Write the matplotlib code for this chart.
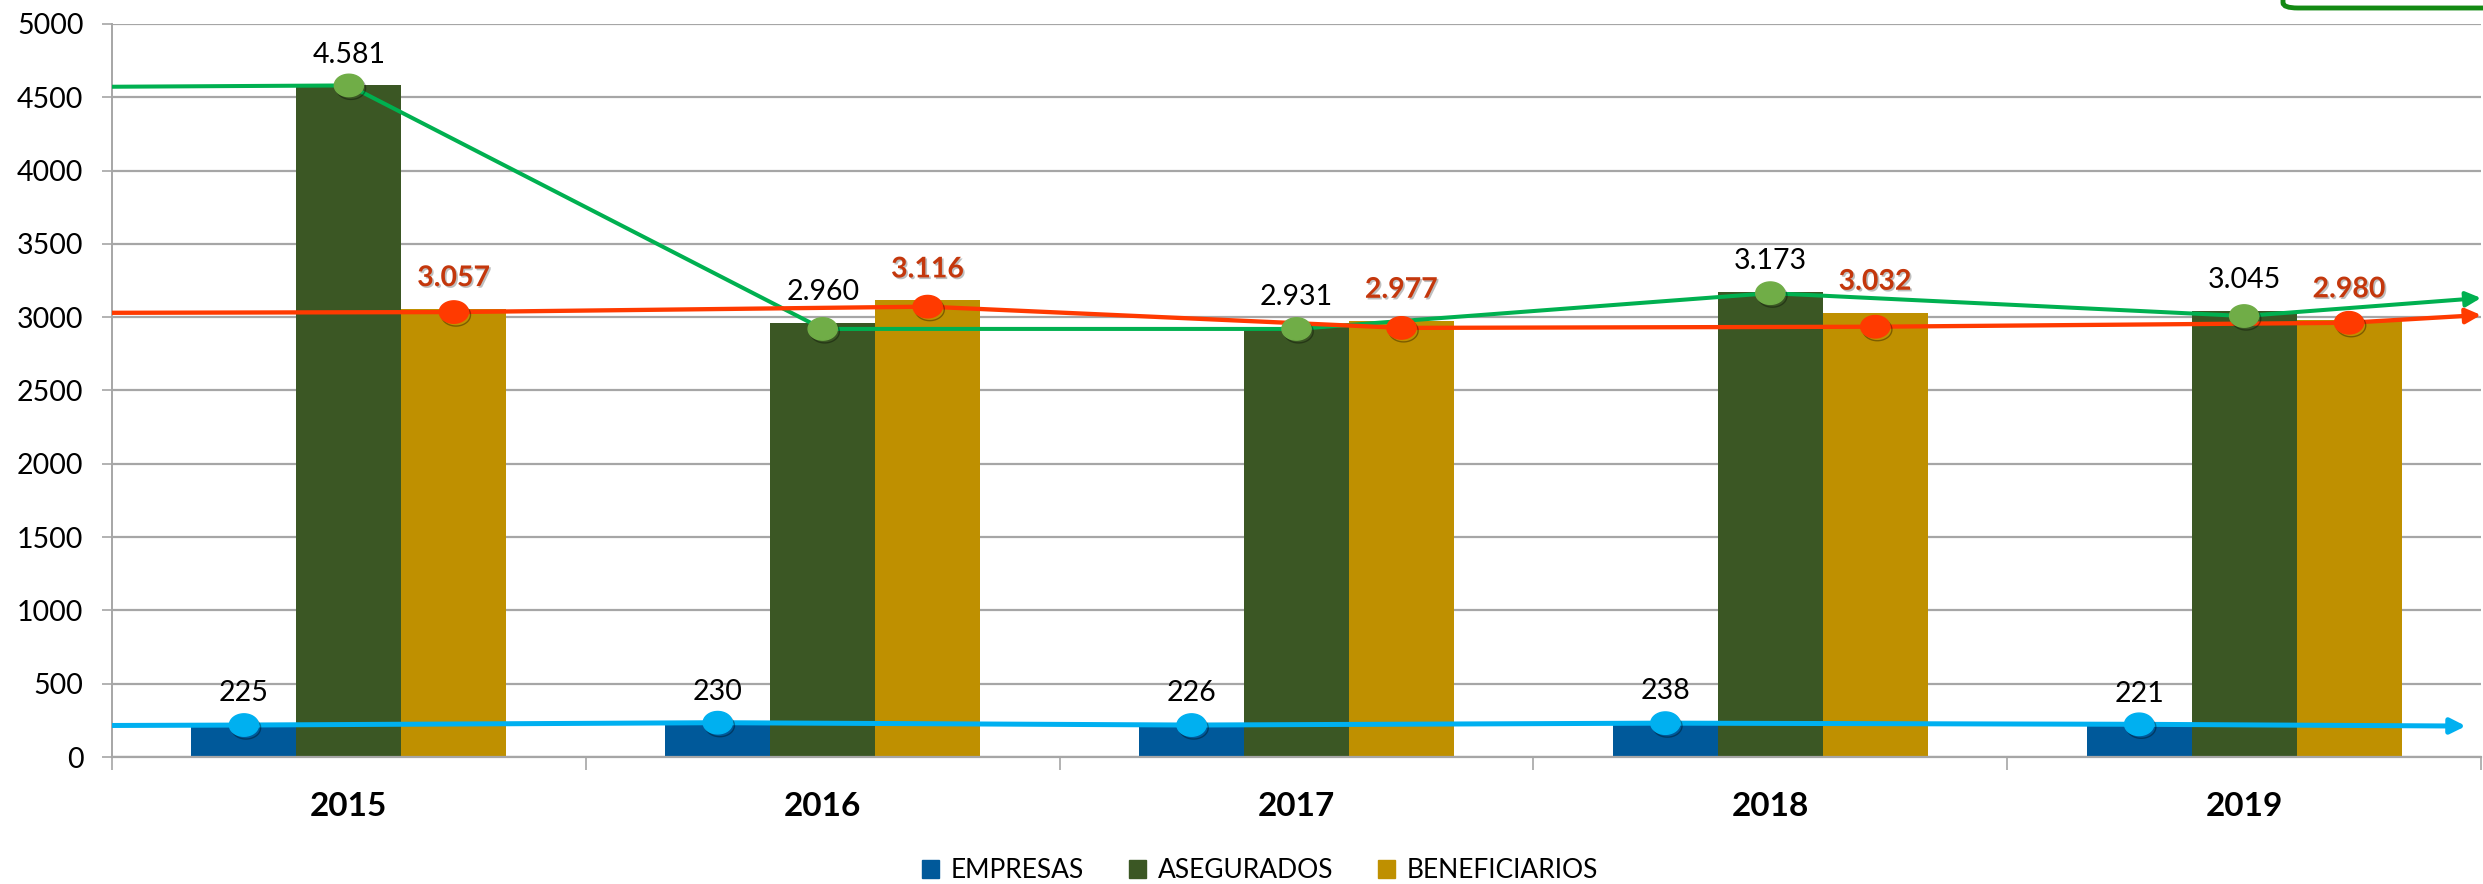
import matplotlib
matplotlib.use("Agg")
import matplotlib.pyplot as plt
import numpy as np
from matplotlib.path import Path
from matplotlib.patches import FancyBboxPatch
import matplotlib.patheffects as pe

# ---------------- data ----------------
anios = ["2015", "2016", "2017", "2018", "2019"]
empresas = [225, 230, 226, 238, 221]
asegurados = [4581, 2960, 2931, 3173, 3045]
beneficiarios = [3057, 3116, 2977, 3032, 2980]

# trend lines drawn over the bars
linea_empresas = [218, 234, 218, 231, 223]
linea_asegurados = [4581, 2920, 2920, 3164, 3008]
linea_beneficiarios = [3035, 3072, 2927, 2935, 2962]
# values where each line enters at the left edge and leaves (arrow) at the right
inicio_lineas = {"empresas": 215, "asegurados": 4572, "beneficiarios": 3030}
fin_lineas = {"empresas": 211, "asegurados": 3131, "beneficiarios": 3015}

series_nombres = ["EMPRESAS", "ASEGURADOS", "BENEFICIARIOS"]
y_ticks = list(range(0, 5001, 500))

# ---------------- style ----------------
C_BLUE_BAR = "#00599A"
C_GREEN_BAR = "#3B5724"
C_GOLD_BAR = "#BF9000"
C_BLUE_LINE = "#00B0F0"
C_GREEN_LINE = "#00B050"
C_GREEN_MK = "#70AD47"
C_RED_LINE = "#FF3A00"
C_RED_TXT = "#C4370C"
GRID = "#A6A6A6"
FONT = "Lato"

plt.rcParams["font.family"] = [FONT, "DejaVu Sans"]

W, H, DPI = 2483, 884, 100
fig = plt.figure(figsize=(W / DPI, H / DPI), dpi=DPI)
ax = fig.add_axes([112 / W, 1 - 757 / H, (2481 - 112) / W, (757 - 24) / H])

x = np.arange(len(anios))
bw = 0.2215
ax.bar(x - bw, empresas, bw, color=C_BLUE_BAR, zorder=2, label=series_nombres[0])
ax.bar(x, asegurados, bw, color=C_GREEN_BAR, zorder=2, label=series_nombres[1])
ax.bar(x + bw, beneficiarios, bw, color=C_GOLD_BAR, zorder=2, label=series_nombres[2])

xmin, xmax = -0.5, len(anios) - 0.5
ax.set_xlim(xmin, xmax)
ax.set_ylim(0, 5000)

# ellipse marker
t = np.linspace(0, 2 * np.pi, 60)
ell = Path(np.column_stack([1.3 * np.cos(t), np.sin(t)]), closed=True)

shadow = [pe.SimpleLineShadow(offset=(1.5, -2), alpha=0.35), pe.Normal()]


def draw_line(xs, ys, start, end, end_x, color, mcolor, lw):
    px = [xmin] + list(xs)
    py = [start] + list(ys)
    ax.plot(px, py, color=color, lw=lw, zorder=4, solid_capstyle="butt")
    ax.annotate("", xy=(end_x, end), xytext=(xs[-1], ys[-1]),
                arrowprops=dict(arrowstyle="-|>,head_length=0.9,head_width=0.45",
                                color=color, lw=lw, shrinkA=0, shrinkB=0),
                zorder=4, annotation_clip=False)
    ax.plot(xs, ys, ls="none", marker=ell, ms=21, mfc=mcolor, mec=mcolor,
            zorder=5, path_effects=shadow)


draw_line(x - bw, linea_empresas, inicio_lineas["empresas"], fin_lineas["empresas"],
          xmax - 0.032, C_BLUE_LINE, C_BLUE_LINE, 3.6)
draw_line(x, linea_asegurados, inicio_lineas["asegurados"], fin_lineas["asegurados"],
          xmax, C_GREEN_LINE, C_GREEN_MK, 2.9)
draw_line(x + bw, linea_beneficiarios, inicio_lineas["beneficiarios"], fin_lineas["beneficiarios"],
          xmax, C_RED_LINE, C_RED_LINE, 3.1)


def fmt(v):
    return f"{v:,}".replace(",", ".")


off = 210
LBL = 20.5
for i in range(len(anios)):
    ax.text(x[i] - bw, empresas[i] + off, fmt(empresas[i]), ha="center", va="center",
            fontsize=LBL, color="black", zorder=6)
    ax.text(x[i], asegurados[i] + off, fmt(asegurados[i]), ha="center", va="center",
            fontsize=LBL, color="black", zorder=6)
    ax.text(x[i] + bw, beneficiarios[i] + off, fmt(beneficiarios[i]), ha="center", va="center",
            fontsize=LBL, color=C_RED_TXT, fontweight="bold", zorder=6,
            path_effects=[pe.withSimplePatchShadow(offset=(1.2, -1.2), shadow_rgbFace="#7f7f7f",
                                                   alpha=0.5)])

# axes styling
ax.set_yticks(y_ticks)
ax.set_yticklabels([str(v) for v in y_ticks], fontsize=20.5)
ax.yaxis.grid(True, color=GRID, lw=1.6, zorder=0)
ax.set_axisbelow(True)
ax.tick_params(axis="y", length=7.5, width=1.2, color=GRID, pad=13)

ax.set_xticks(np.arange(xmin, xmax + 0.01, 1.0))
ax.set_xticklabels([])
ax.set_xticks(x, minor=True)
ax.set_xticklabels(anios, minor=True, fontsize=24, fontweight="bold")
ax.tick_params(axis="x", which="major", length=9, width=1.2, color=GRID)
ax.tick_params(axis="x", which="minor", length=0, pad=25)

for s in ["top", "right"]:
    ax.spines[s].set_visible(False)
ax.spines["left"].set_color(GRID)
ax.spines["left"].set_linewidth(1.4)
ax.spines["bottom"].set_color(GRID)
ax.spines["bottom"].set_linewidth(1.6)

# legend
handles = [plt.Rectangle((0, 0), 1, 1, color=c) for c in (C_BLUE_BAR, C_GREEN_BAR, C_GOLD_BAR)]
fig.legend(handles, series_nombres, loc="center", bbox_to_anchor=(1260 / W, 1 - 871 / H),
           ncol=3, frameon=False, fontsize=19, handlelength=0.65, handleheight=0.65,
           handletextpad=0.45, columnspacing=1.7, borderaxespad=0, borderpad=0)

# partial green box at top right
box = FancyBboxPatch((2283 / W, 1 - 8 / H), 0.2, 0.1, boxstyle="round,pad=0,rounding_size=0.006",
                     transform=fig.transFigure, fc="white", ec="#138A13", lw=3.5, clip_on=False)
fig.patches.append(box)

fig.savefig("out.png", dpi=DPI)
